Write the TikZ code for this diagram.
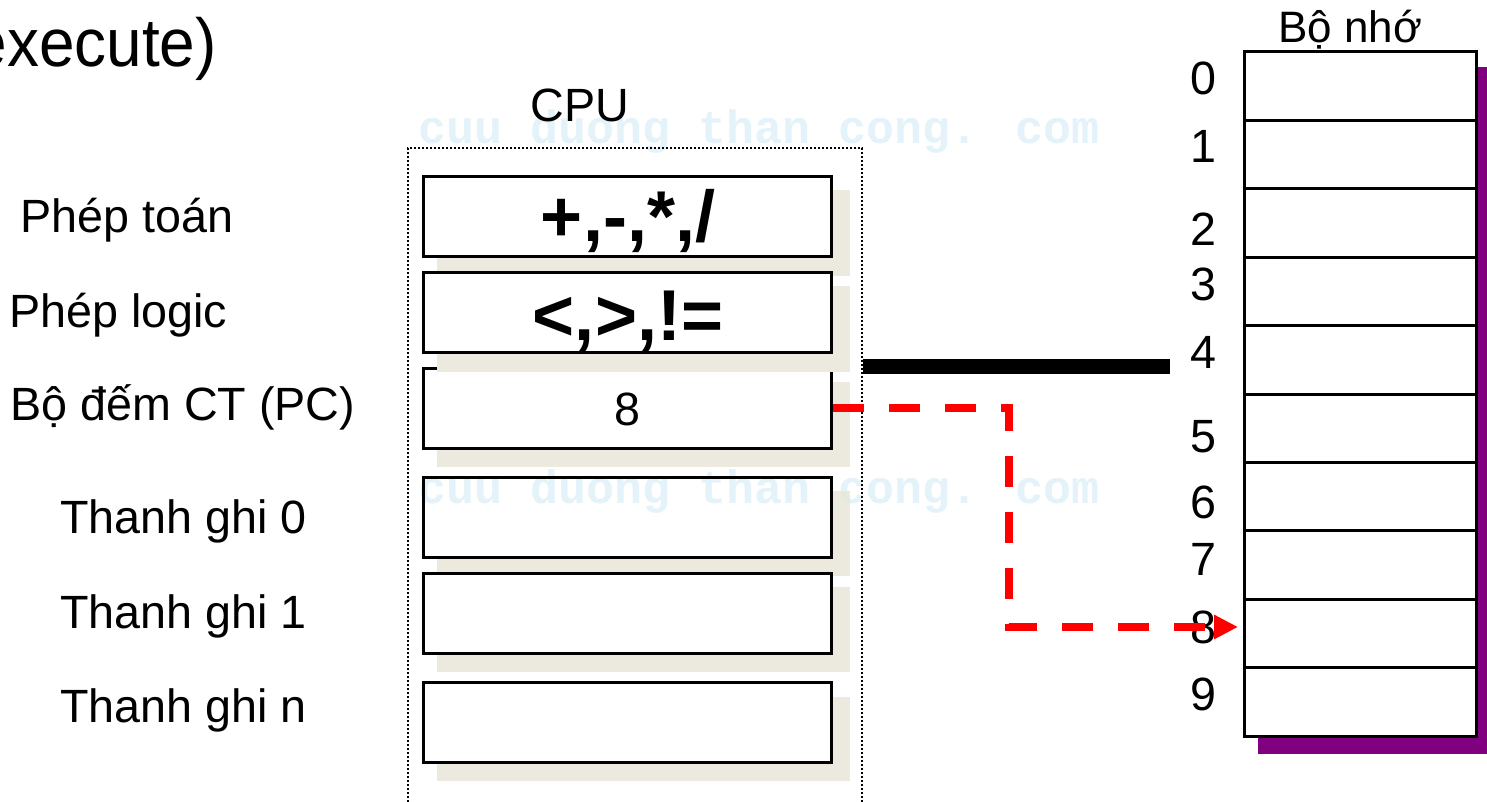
\documentclass[tikz,border=0pt]{standalone}
\usepackage{fontspec}
\setmainfont{Liberation Sans}
\newfontfamily\wmfont{Liberation Mono}
\usetikzlibrary{arrows.meta}
\definecolor{shadowbeige}{RGB}{236,233,222}
\definecolor{wmblue}{RGB}{228,242,250}
\definecolor{memshadow}{RGB}{128,0,128}
\begin{document}
\begin{tikzpicture}[x=0.75pt,y=-0.75pt,
  lbl/.style={anchor=base west, inner sep=0pt, font=\fontsize{35}{42}\selectfont},
  ctr/.style={anchor=base, inner sep=0pt, font=\fontsize{35}{42}\selectfont},
  opsym/.style={anchor=base, inner sep=0pt, font=\fontsize{54}{60}\selectfont\bfseries},
  wmark/.style={anchor=base west, inner sep=0pt, text=wmblue, font=\wmfont\bfseries\fontsize{35}{42}\selectfont},
  regbox/.style={draw=black, line width=2.25pt, fill=white, minimum width=306pt, minimum height=60pt, inner sep=0pt},
  shad/.style={fill=shadowbeige},
  cpuframe/.style={draw=black, line width=1.9pt, dash pattern=on 1.6pt off 1.4pt, minimum width=340.5pt, minimum height=519pt, inner sep=0pt},
  memcell/.style={draw=black, line width=2.25pt, fill=white, minimum width=174pt, minimum height=51.3pt, inner sep=0pt},
  bus/.style={line width=11.25pt, black},
  redflow/.style={draw=red, line width=6pt, dash pattern=on 23.25pt off 18.75pt, -{Triangle[length=18pt,width=17.25pt]}}
]
\useasboundingbox (0,0) rectangle (1487,802);

% heading fragment
\node[anchor=base east, inner sep=0pt, xscale=0.94, font=\fontsize{51}{60}\selectfont] (head) at (217,67) {execute)};

% CPU frame
\node[cpuframe] (cpu) at (635,494) {};

% register shadows and boxes
\fill[shad] (437,190) rectangle (850,276);
\fill[shad] (437,382) rectangle (850,467);
\fill[shad] (437,491) rectangle (850,576);
\fill[shad] (437,587) rectangle (850,672);
\fill[shad] (437,697) rectangle (850,781);
\node[regbox] (r6) at (627.5,722.5) {};
\node[regbox] (r5) at (627.5,613) {};
\node[regbox] (r4) at (627.5,517) {};
\node[regbox] (pc) at (627.5,408) {};
\fill[shad] (437,286) rectangle (850,372);
\node[regbox] (r1) at (627.5,216.5) {};
\node[regbox] (r2) at (627.5,312.5) {};

% watermark (on top, darkening only)
\begin{scope}[blend mode=darken]
\node[wmark] (wm1) at (418,144) {cuu duong than cong. com};
\node[wmark] (wm2) at (418,503) {cuu duong than cong. com};
\end{scope}

\node[ctr] (cpulbl) at (580,122) {CPU};
\node[opsym] (op1) at (628,242) {+,-,*,/};
\node[opsym] (op2) at (628,340) {<,>,!=};
\node[ctr] (pcval) at (627.5,425) {8};

% left labels
\node[lbl] (l1) at (20,233) {Phép toán};
\node[lbl] (l2) at (9,327) {Phép logic};
\node[lbl] (l3) at (10,420) {Bộ đếm CT (PC)};
\node[lbl] (l4) at (60,533) {Thanh ghi 0};
\node[lbl] (l5) at (60,628) {Thanh ghi 1};
\node[lbl] (l6) at (60,722) {Thanh ghi n};

% memory
\fill[memshadow] (1258,67) rectangle (1495,754);
\foreach \i/\yy in {0/86.2,1/154.6,2/223,3/291.4,4/359.8,5/428.2,6/496.6,7/565,8/633.4,9/701.8}{
  \node[memcell] (m\i) at (1360.5,\yy) {};
}
\node[ctr, font=\fontsize{33}{40}\selectfont] (memlbl) at (1350,43) {Bộ nhớ};
\foreach \i/\yb in {0/95,1/163,2/245,3/300,4/368,5/452,6/518,7/575,8/643,9/710}{
  \node[ctr] (d\i) at (1203,\yb) {\i};
}

% bus
\coordinate (busR) at (1170,366.5);
\draw[bus] (cpu.east |- busR) -- (busR);

% PC -> memory cell 8
\coordinate (c1) at (1009,408);
\coordinate (c2) at (1009,627);
\coordinate (tip) at (1238,627);
\draw[redflow] (pc.east) -- (c1) -- (c2) -- (tip);
\end{tikzpicture}
\end{document}
